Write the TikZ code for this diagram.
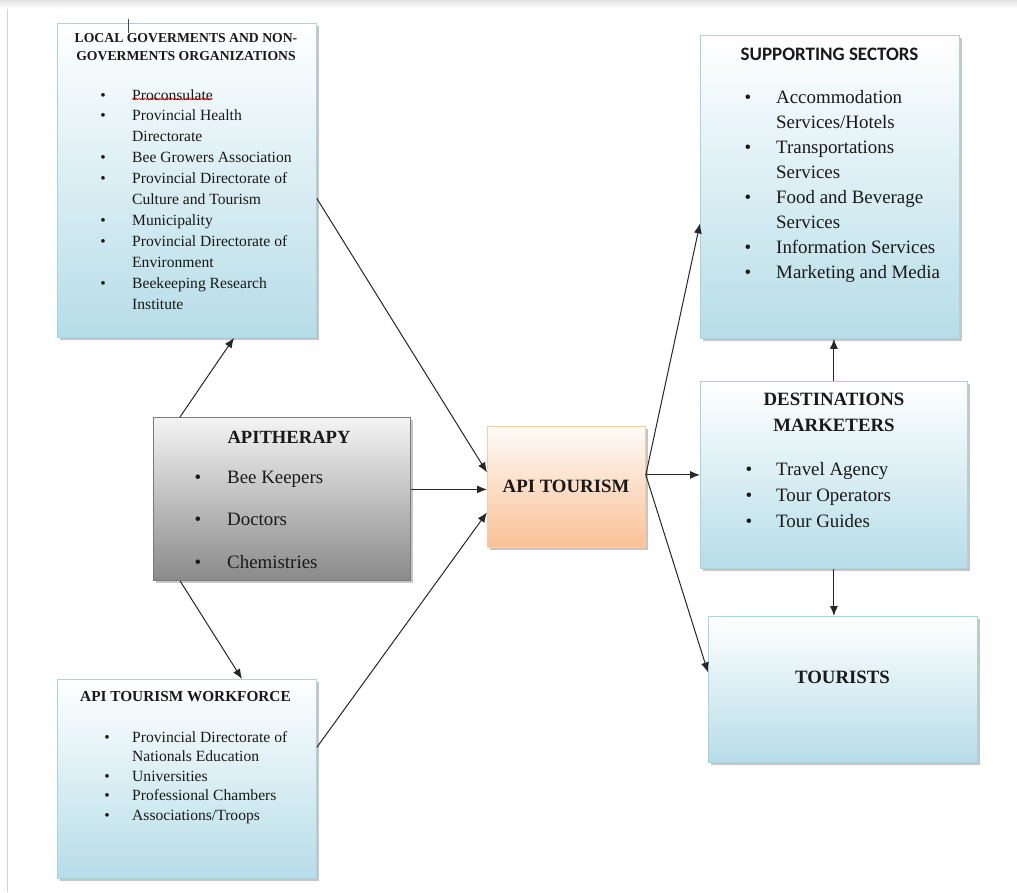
\documentclass[tikz,border=0pt]{standalone}
\usepackage{fontspec}
\setmainfont{Liberation Serif}
\newfontfamily\calibrifont{Carlito}
\usetikzlibrary{arrows.meta,shadows,decorations.pathmorphing}
\definecolor{bluetop}{HTML}{FFFFFF}
\definecolor{bluebot}{HTML}{B6DDE8}
\definecolor{blueedge}{HTML}{A8D4E0}
\definecolor{graytop}{HTML}{F4F4F4}
\definecolor{graybot}{HTML}{8A8A8A}
\definecolor{grayedge}{HTML}{7A7A7A}
\definecolor{peachtop}{HTML}{FFFBF8}
\definecolor{peachbot}{HTML}{F9C196}
\definecolor{peachedge}{HTML}{F6CBA8}
\newcommand\fSm{\fontsize{15.6}{18}\selectfont}
\newcommand\fLg{\fontsize{18.9}{22}\selectfont}
\newcommand\fHs{\fontsize{13.7}{16}\selectfont\bfseries}
\newcommand\fHw{\fontsize{15.3}{18}\selectfont\bfseries}
\newcommand\fHl{\fontsize{18.8}{22}\selectfont\bfseries}
\begin{document}
\begin{tikzpicture}[x=1pt,y=-1pt,
  boxbase/.style={rectangle, anchor=north west, inner sep=0pt, line width=0.8pt,
    drop shadow={shadow xshift=2.5pt, shadow yshift=-2.5pt, opacity=0.45}},
  bluebox/.style={boxbase, draw=blueedge, top color=bluetop, bottom color=bluebot},
  graybox/.style={boxbase, draw=grayedge, top color=graytop, bottom color=graybot},
  peachbox/.style={boxbase, draw=peachedge, top color=peachtop, bottom color=peachbot},
  txt/.style={inner sep=0pt, anchor=base west, text=black!90},
  bul/.style={inner sep=0pt, anchor=base, text=black!90},
  head/.style={inner sep=0pt, anchor=base, text=black!90},
  arr/.style={-{Latex[length=10pt,width=8pt]}, line width=1pt, black!85}
]
\useasboundingbox (0,0) rectangle (1017,892);
% page edges
\fill[top color=gray!22, bottom color=white, draw=none] (0,0) rectangle (1017,9);
\draw[gray!35, line width=1pt] (7,9) -- (7,892);

% boxes
\node[bluebox, minimum width=259pt, minimum height=314pt] (local) at (57,23) {};
\node[bluebox, minimum width=259pt, minimum height=303pt] (sup) at (700,35) {};
\node[bluebox, minimum width=267pt, minimum height=187pt] (dest) at (700,381) {};
\node[bluebox, minimum width=269pt, minimum height=146pt] (tourists) at (708,616) {};
\node[graybox, minimum width=257pt, minimum height=163pt] (apit) at (153,417) {};
\node[peachbox, minimum width=158pt, minimum height=121pt] (tour) at (487,426) {};
\node[bluebox, minimum width=259pt, minimum height=199pt] (work) at (57,679) {};

% cursor mark
\draw[gray!60!black, line width=0.8pt] (128,19) -- (128,33);

% LOCAL box
\node[head] (loch1) at (186,42) {\fHs LOCAL GOVERMENTS AND NON-};
\node[head] (loch2) at (186,60) {\fHs GOVERMENTS ORGANIZATIONS};
\foreach \b/\t [count=\i from 0] in {1/Proconsulate, 1/Provincial Health, 0/Directorate,
   1/Bee Growers Association, 1/Provincial Directorate of, 0/Culture and Tourism,
   1/Municipality, 1/Provincial Directorate of, 0/Environment, 1/Beekeeping Research, 0/Institute}{
  \node[txt] (loc\i) at (132,100+20.9*\i) {\fSm \t};
  \ifnum\b=1 \node[bul] (locb\i) at (103,100+20.9*\i) {\fSm\textbullet}; \fi
}
\draw[red!85!black, line width=0.5pt, decorate, decoration={snake, amplitude=0.9pt, segment length=3pt}]
  ([yshift=1.5pt]loc0.south west) -- ([yshift=1.5pt]loc0.south east);

% SUPPORTING SECTORS
\node[head] (suph) at (829.5,60) {\calibrifont\fontsize{19}{22}\selectfont\bfseries SUPPORTING SECTORS};
\foreach \b/\t [count=\i from 0] in {1/Accommodation, 0/{Services/Hotels}, 1/Transportations, 0/Services,
   1/Food and Beverage, 0/Services, 1/Information Services, 1/Marketing and Media}{
  \node[txt] (sup\i) at (776,103+25*\i) {\fLg \t};
  \ifnum\b=1 \node[bul] (supb\i) at (748,103+25*\i) {\fLg\textbullet}; \fi
}

% DESTINATIONS MARKETERS
\node[head] (desth1) at (834,405) {\fHl DESTINATIONS};
\node[head] (desth2) at (834,431) {\fHl MARKETERS};
\foreach \t [count=\i from 0] in {Travel Agency, Tour Operators, Tour Guides}{
  \node[txt] (dst\i) at (776,475.5+26*\i) {\fLg \t};
  \node[bul] (dstb\i) at (749,475.5+26*\i) {\fLg\textbullet};
}

% TOURISTS
\node[head] (touristsh) at (842.5,683) {\fHl TOURISTS};

% APITHERAPY
\node[head] (apith) at (289,443) {\fontsize{18.6}{22}\selectfont\bfseries APITHERAPY};
\foreach \t [count=\i from 0] in {Bee Keepers, Doctors, Chemistries}{
  \node[txt] (api\i) at (227,483+42.5*\i) {\fLg \t};
  \node[bul] (apib\i) at (198,483+42.5*\i) {\fLg\textbullet};
}

% API TOURISM
\node[head] (tourh) at (566,492) {\fHl API TOURISM};

% WORKFORCE
\node[head] (workh) at (185.5,701) {\fHw API TOURISM WORKFORCE};
\foreach \b/\t [count=\i from 0] in {1/Provincial Directorate of, 0/Nationals Education,
   1/Universities, 1/Professional Chambers, 1/{Associations/Troops}}{
  \node[txt] (wrk\i) at (132,742+19.6*\i) {\fSm \t};
  \ifnum\b=1 \node[bul] (wrkb\i) at (107,742+19.6*\i) {\fSm\textbullet}; \fi
}

% connectors
\draw[arr] ([xshift=27pt]apit.north west) -- ([xshift=177pt]local.south west);
\draw[arr] ([xshift=27pt]apit.south west) -- ([xshift=185pt]work.north west);
\draw[arr] ([yshift=-18pt]local.east) -- ([yshift=14.5pt]tour.west);
\draw[arr] ([yshift=9.5pt]apit.east) -- ([yshift=-2.5pt]tour.west);
\draw[arr] ([yshift=31.5pt]work.east) -- ([yshift=-25.5pt]tour.west);
\draw[arr] ([yshift=12pt]tour.east) -- ([yshift=-36.5pt]sup.west);
\draw[arr] ([yshift=12pt]tour.east) -- (dest.west);
\draw[arr] ([yshift=12pt]tour.east) -- ([yshift=17pt]tourists.west);
\draw[arr] (dest.north) -- (dest.north |- sup.south);
\draw[arr] (dest.south) -- (dest.south |- tourists.north);
\end{tikzpicture}
\end{document}
